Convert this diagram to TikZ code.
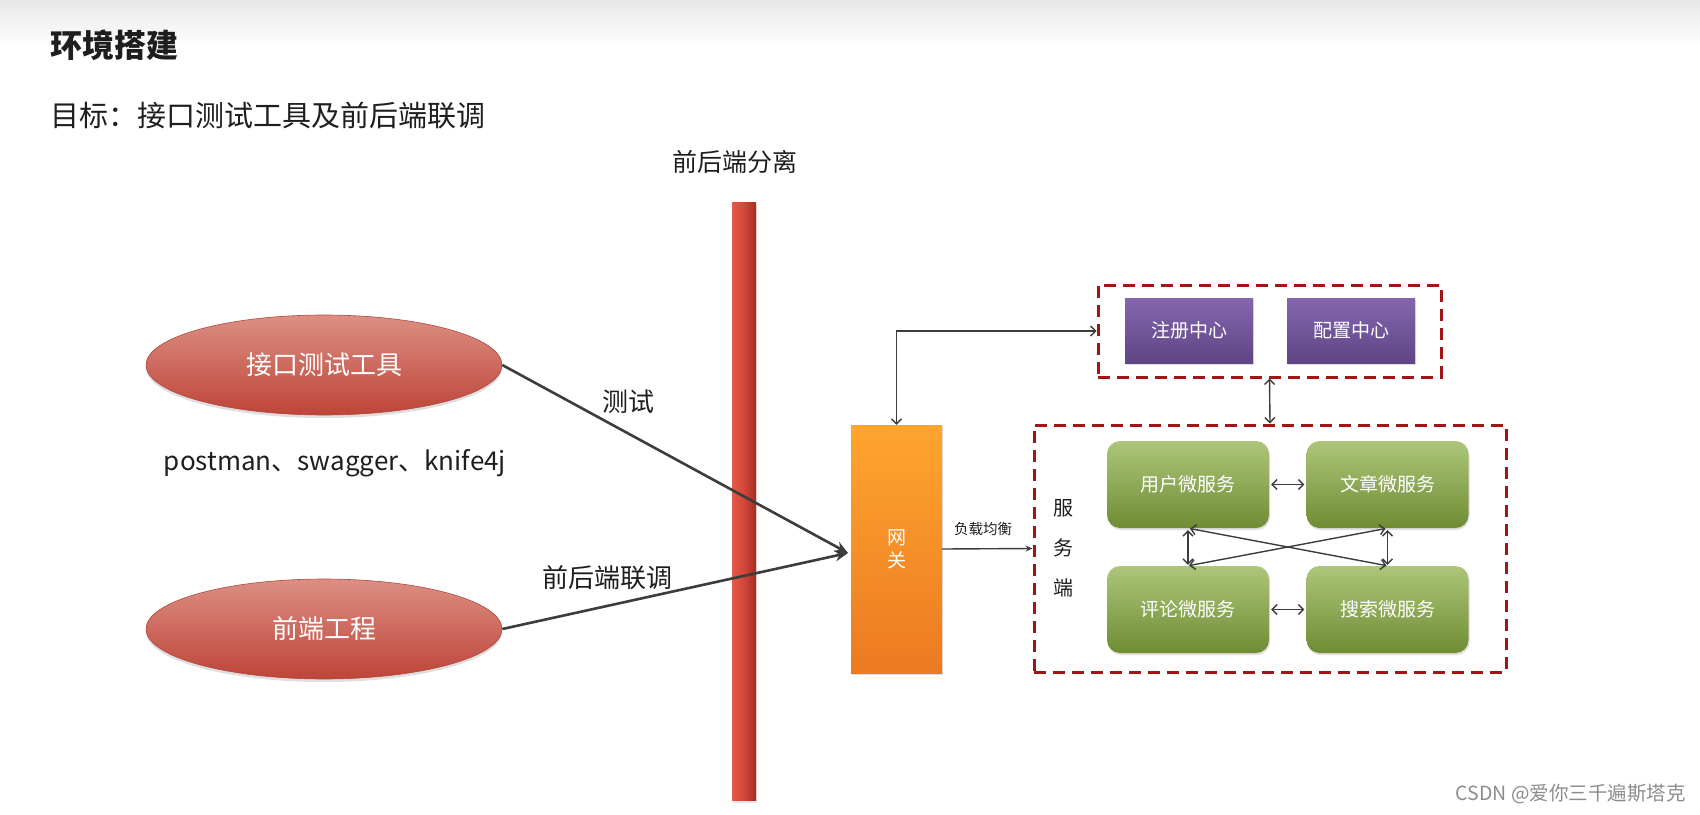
\documentclass[tikz,border=0pt]{standalone}
\usepackage{fontspec}
\setmainfont{Noto Sans CJK SC}
\usetikzlibrary{arrows.meta,shapes.geometric,shadows,calc}
\definecolor{ellTop}{HTML}{DC8F84}
\definecolor{ellBot}{HTML}{BE4438}
\definecolor{ellLine}{HTML}{B04A40}
\definecolor{gwTop}{HTML}{FFA52E}
\definecolor{gwBot}{HTML}{EC7A22}
\definecolor{purTop}{HTML}{8466AE}
\definecolor{purBot}{HTML}{5E4585}
\definecolor{grnTop}{HTML}{ADC67A}
\definecolor{grnBot}{HTML}{6F8C33}
\definecolor{barL}{HTML}{E25A48}
\definecolor{barM}{HTML}{D2463A}
\definecolor{barR}{HTML}{A32E22}
\definecolor{dashRed}{HTML}{A31515}
\definecolor{lineGray}{HTML}{3C3C3C}
\definecolor{txt}{HTML}{1E1E1E}
\newcommand{\fsz}[2]{\fontsize{#1}{#2}\selectfont}
\begin{document}
\begin{tikzpicture}[x=1pt,y=-1pt,
  ellnode/.style={ellipse, minimum width=356pt, minimum height=100pt, inner sep=0pt,
    top color=ellTop, bottom color=ellBot, draw=ellLine, line width=0.6pt,
    text=white, font=\fsz{26}{30},
    drop shadow={opacity=0.25, shadow xshift=0pt, shadow yshift=-3pt}},
  purbox/.style={rectangle, minimum width=128pt, minimum height=65pt, inner sep=0pt,
    top color=purTop, bottom color=purBot, text=white, font=\fsz{19}{22},
    drop shadow={opacity=0.25, shadow xshift=1pt, shadow yshift=-2pt}},
  grnbox/.style={rectangle, rounded corners=13pt, minimum width=162pt, minimum height=87pt, inner sep=0pt,
    top color=grnTop, bottom color=grnBot, text=white, font=\fsz{19}{22},
    drop shadow={opacity=0.25, shadow xshift=1pt, shadow yshift=-2pt}},
  dashbox/.style={rectangle, draw=dashRed, line width=3pt, dash pattern=on 12pt off 7pt, inner sep=0pt},
  mainline/.style={draw=lineGray, line width=2.6pt, -{Stealth[length=13pt,width=11pt]}},
  thin2/.style={draw=lineGray, line width=1.4pt, {Straight Barb[length=5pt,width=10pt]}-{Straight Barb[length=5pt,width=10pt]}},
  lbl/.style={text=txt, inner sep=0pt}
]
\useasboundingbox (0,0) rectangle (1700,814);
% top gradient
\shade[top color=black!9, bottom color=white] (0,0) rectangle (1700,48);

% titles
\node[lbl, anchor=west, font=\fsz{32}{38}\bfseries] (title) at (50,45) {环境搭建};
\node[lbl, anchor=west, font=\fsz{29}{34}] (sub) at (50,116) {目标：接口测试工具及前后端联调};

% separator bar
\node[lbl, font=\fsz{25}{30}] (seplbl) at (735,162) {前后端分离};
\node[rectangle, minimum width=24pt, minimum height=598pt, inner sep=0pt,
  left color=barL, right color=barR, middle color=barM,
  drop shadow={opacity=0.2, shadow xshift=1pt, shadow yshift=-3pt}] (bar) at (744,501) {};

% ellipses
\node[ellnode] (tool) at (324,365) {接口测试工具};
\node[ellnode] (fe) at (324,629) {前端工程};
\node[lbl, font=\fsz{26}{30}] (tools) at (335,463) {postman、swagger、knife4j};

% gateway
\node[rectangle, minimum width=91pt, minimum height=248pt, inner sep=0pt,
  top color=gwTop, bottom color=gwBot, text=white, align=center, font=\fsz{19}{23},
  drop shadow={opacity=0.25, shadow xshift=1pt, shadow yshift=-2pt}] (gw) at (896.5,549) {网\\关};
\coordinate (gwin) at (848,553);

% main connectors
\draw[mainline] (tool.east) -- (gwin);
\draw[mainline] (fe.east) -- (gwin);
\node[lbl, font=\fsz{26}{30}] (testlbl) at (628,402) {测试};
\node[lbl, font=\fsz{26}{30}] (jointlbl) at (607,578) {前后端联调};

% dashed groups
\node[dashbox, minimum width=343pt, minimum height=92pt] (reg) at (1269.5,331) {};
\node[dashbox, minimum width=472pt, minimum height=247pt] (svc) at (1270,548.5) {};

% registry boxes
\node[purbox] (zc) at (1189,330.5) {注册中心};
\node[purbox] (pz) at (1351,330.5) {配置中心};

% service boxes
\node[grnbox] (yh) at (1188,484.5) {用户微服务};
\node[grnbox] (wz) at (1387.5,484.5) {文章微服务};
\node[grnbox] (pl) at (1188,609.5) {评论微服务};
\node[grnbox] (ss) at (1387.5,609.5) {搜索微服务};
\node[lbl, align=center, font=\fsz{20}{40}] (fwd) at (1063,548) {服\\务\\端};

% small connectors
\draw[thin2] (gw.north) |- (reg.west);
\draw[thin2] (reg.south) -- (svc.north);
\draw[draw=lineGray, line width=1.4pt, -{Stealth[length=7pt,width=6pt]}] (gw.east) -- (svc.west);
\node[lbl, font=\fsz{14.5}{17}] (lb) at (983,529) {负载均衡};

\draw[thin2, shorten <=2pt, shorten >=2pt] (yh.east) -- (wz.west);
\draw[thin2, shorten <=2pt, shorten >=2pt] (pl.east) -- (ss.west);
\draw[thin2, shorten <=2pt, shorten >=1pt] (yh.south) -- (pl.north);
\draw[thin2, shorten <=2pt, shorten >=1pt] (wz.south) -- (ss.north);
\draw[thin2, shorten <=2pt, shorten >=1pt] (yh.south) -- (ss.north);
\draw[thin2, shorten <=2pt, shorten >=1pt] (wz.south) -- (pl.north);

% watermark
\node[anchor=east, text=black!45, font=\fsz{19.5}{23}, inner sep=0pt] (wm) at (1686,794) {CSDN @爱你三千遍斯塔克};
\end{tikzpicture}
\end{document}
